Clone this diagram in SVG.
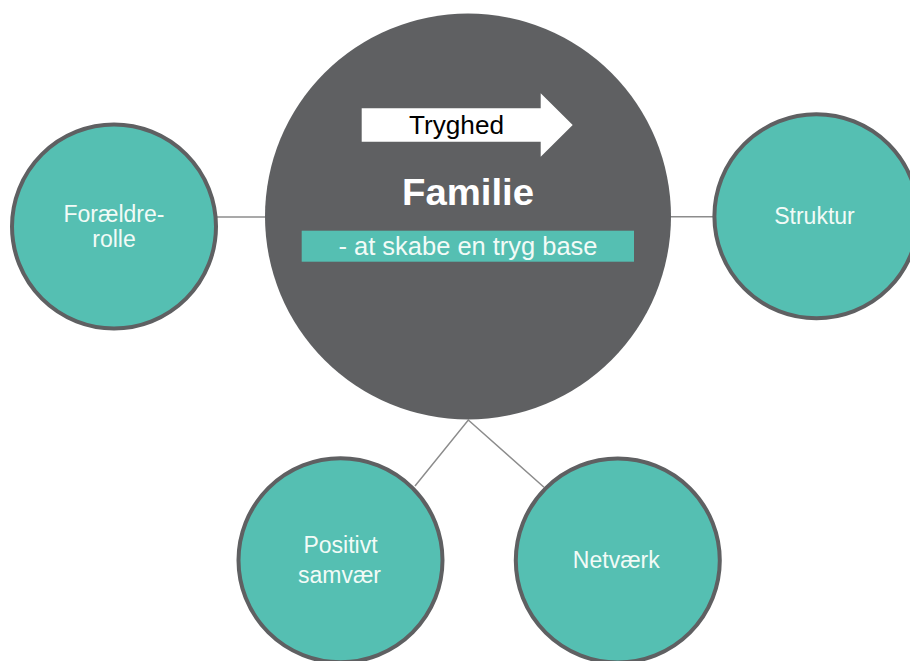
<svg xmlns="http://www.w3.org/2000/svg" width="910" height="661" viewBox="0 0 910 661">
<style>
.conn{stroke:#8c8c8c;stroke-width:1.5;fill:none}
.sat{fill:#55bfb2;stroke:#5f6062;stroke-width:4}
.lbl{font-family:"Liberation Sans",Arial,sans-serif;font-size:23px;fill:#f2fbf7;text-anchor:middle}
</style>
<rect width="910" height="661" fill="#ffffff"/>
<g id="connectors">
<line class="conn" x1="216" y1="217" x2="266" y2="217"/>
<line class="conn" x1="670" y1="216.7" x2="714" y2="216.7"/>
<polyline class="conn" points="415,486 468.3,420 544,487.3"/>
</g>
<g id="familie">
<circle cx="468" cy="216.5" r="203" fill="#5f6062"/>
<polygon points="361.7,108.3 540.7,108.3 540.7,93.3 572.7,125 540.7,156.7 540.7,141.7 361.7,141.7" fill="#ffffff"/>
<text x="456.5" y="133.5" font-family="'Liberation Sans',Arial,sans-serif" font-size="25" fill="#000000" text-anchor="middle" textLength="95" lengthAdjust="spacingAndGlyphs">Tryghed</text>
<text x="468" y="205" font-family="'Liberation Sans',Arial,sans-serif" font-size="36" font-weight="bold" fill="#ffffff" text-anchor="middle" textLength="132" lengthAdjust="spacingAndGlyphs">Familie</text>
<rect x="301.7" y="230.7" width="332.3" height="31" fill="#55bfb2"/>
<text x="468" y="255" font-family="'Liberation Sans',Arial,sans-serif" font-size="25" fill="#f2fbf7" text-anchor="middle" textLength="259" lengthAdjust="spacingAndGlyphs">- at skabe en tryg base</text>
</g>
<g id="foraeldrerolle">
<circle class="sat" cx="114" cy="226.5" r="102"/>
<text class="lbl" x="114" y="221.5">Forældre-</text>
<text class="lbl" x="114" y="246.7">rolle</text>
</g>
<g id="struktur">
<circle class="sat" cx="816.4" cy="216.3" r="102"/>
<text class="lbl" x="814.5" y="224">Struktur</text>
</g>
<g id="positivt-samvaer">
<circle class="sat" cx="340.5" cy="560.3" r="102"/>
<text class="lbl" x="340.5" y="552.7">Positivt</text>
<text class="lbl" x="339.5" y="582.7">samvær</text>
</g>
<g id="netvaerk">
<circle class="sat" cx="617.8" cy="560.5" r="102"/>
<text class="lbl" x="616.3" y="568.3">Netværk</text>
</g>
</svg>
